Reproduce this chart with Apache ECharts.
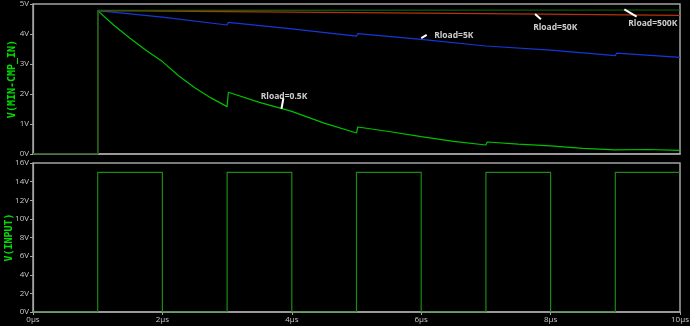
<!DOCTYPE html>
<html>
<head>
<meta charset="utf-8">
<script src="https://cdn.jsdelivr.net/npm/echarts@6/dist/echarts.min.js"></script>
<style>
html,body{margin:0;padding:0;background:#000;}
#chart{width:690px;height:326px;}
</style>
</head>
<body>
<div id="chart"></div>
<script>
// ---- data (time in µs, voltage in V) ----
const xTicks = [0, 2, 4, 6, 8, 10];
const topTicks = [0, 1, 2, 3, 4, 5];
const bottomTicks = [0, 2, 4, 6, 8, 10, 12, 14, 16];

const t05 = [0, 1, 1, 1.25, 1.5, 1.75, 2, 2.25, 2.5, 2.75, 3, 3.02, 3.5, 4, 4.5, 5, 5.02, 5.5, 6, 6.5, 7, 7.02, 7.5, 8, 8.5, 9, 9.02, 9.5, 10];
const v05 = [0, 0, 4.78, 4.29, 3.86, 3.45, 3.08, 2.61, 2.21, 1.87, 1.58, 2.06, 1.72, 1.42, 1.03, 0.70, 0.90, 0.75, 0.58, 0.42, 0.30, 0.40, 0.33, 0.27, 0.19, 0.14, 0.18, 0.15, 0.12];

const t5 = [0, 1, 1, 2, 3, 3.02, 4, 5, 5.02, 6, 7, 7.02, 8, 9, 9.02, 10];
const v5 = [0, 0, 4.78, 4.56, 4.30, 4.39, 4.17, 3.93, 4.01, 3.82, 3.60, 3.66, 3.46, 3.28, 3.36, 3.22];

const t50 = [0, 1, 1, 4, 7, 10];
const v50 = [0, 0, 4.78, 4.73, 4.68, 4.62];

const t500 = [0, 1, 1, 10];
const v500 = [0, 0, 4.79, 4.80];

const tIn = [0, 1, 1, 2, 2, 3, 3, 4, 4, 5, 5, 6, 6, 7, 7, 8, 8, 9, 9, 10];
const vIn = [0, 0, 15, 15, 0, 0, 15, 15, 0, 0, 15, 15, 0, 0, 15, 15, 0, 0, 15, 15];

const annoText = ['Rload=0.5K', 'Rload=5K', 'Rload=50K', 'Rload=500K'];
const annoX = [3.52, 6.20, 7.73, 9.20];
const annoY = [1.92, 3.95, 4.22, 4.36];
const leadX1 = [3.87, 6.00, 7.76, 9.14];
const leadY1 = [1.86, 3.86, 4.67, 4.82];
const leadX2 = [3.84, 6.085, 7.85, 9.33];
const leadY2 = [1.51, 3.97, 4.49, 4.58];

// ---- build ----
const zip = (a, b) => a.map((v, i) => [v, b[i]]);
const gray = '#a4a4a4';
const tickFont = { color: '#c8c8c8', fontSize: 8, fontFamily: 'Open Sans' };

const chart = echarts.init(document.getElementById('chart'), null, { renderer: 'canvas' });

function lineSeries(name, t, v, color, xi, width) {
  return {
    name, type: 'line', xAxisIndex: xi, yAxisIndex: xi,
    data: zip(t, v), showSymbol: false, symbol: 'none',
    lineStyle: { color, width: width || 1.2 }, silent: true, animation: false
  };
}

const option = {
  backgroundColor: '#000',
  animation: false,
  grid: [
    { left: 33, top: 4, width: 647, height: 150, show: true, borderColor: gray, borderWidth: 1.5,
      backgroundColor: 'transparent', containLabel: false, outerBoundsMode: 'none' },
    { left: 33, top: 163, width: 647, height: 149, show: true, borderColor: gray, borderWidth: 1.5,
      backgroundColor: 'transparent', containLabel: false, outerBoundsMode: 'none' }
  ],
  xAxis: [
    { type: 'value', gridIndex: 0, min: xTicks[0], max: xTicks[xTicks.length - 1], interval: 2,
      axisLine: { show: true, lineStyle: { color: gray, width: 1.5 } }, axisTick: { show: false },
      axisLabel: { show: false }, splitLine: { show: false } },
    { type: 'value', gridIndex: 1, min: xTicks[0], max: xTicks[xTicks.length - 1], interval: 2,
      axisLine: { show: true, onZero: false, lineStyle: { color: gray, width: 1.5 } },
      axisTick: { show: true, length: 3, lineStyle: { color: gray } },
      axisLabel: Object.assign({ margin: 4, formatter: v => v + 'µs' }, tickFont),
      splitLine: { show: false } }
  ],
  yAxis: [
    { type: 'value', gridIndex: 0, min: topTicks[0], max: topTicks[topTicks.length - 1], interval: 1,
      axisLine: { show: true, lineStyle: { color: gray, width: 1.2 } },
      axisTick: { show: true, length: 3, lineStyle: { color: gray } },
      axisLabel: Object.assign({ margin: 4, formatter: v => v + 'V' }, tickFont),
      splitLine: { show: false },
      name: 'V(MIN-CMP_IN)', nameLocation: 'middle', nameGap: 15.5, nameMoveOverlap: false,
      nameTextStyle: { color: '#00e000', fontSize: 10, fontWeight: 'bold', fontFamily: 'DejaVu Sans Mono' } },
    { type: 'value', gridIndex: 1, min: bottomTicks[0], max: bottomTicks[bottomTicks.length - 1], interval: 2,
      axisLine: { show: true, lineStyle: { color: gray, width: 1.2 } },
      axisTick: { show: true, length: 3, lineStyle: { color: gray } },
      axisLabel: Object.assign({ margin: 4, formatter: v => v + 'V' }, tickFont),
      splitLine: { show: false },
      name: 'V(INPUT)', nameLocation: 'middle', nameGap: 19, nameMoveOverlap: false,
      nameTextStyle: { color: '#00e000', fontSize: 10, fontWeight: 'bold', fontFamily: 'DejaVu Sans Mono' } }
  ],
  series: [
    lineSeries('Rload=0.5K', t05, v05, '#00c000', 0, 1.2),
    lineSeries('Rload=5K', t5, v5, '#1438d8', 0, 1.2),
    lineSeries('Rload=50K', t50, v50, '#b83010', 0, 1.2),
    lineSeries('Rload=500K', t500, v500, '#0a6a0a', 0, 1.2),
    lineSeries('V(INPUT)', tIn, vIn, '#1c8a14', 1, 1.2),
    {
      type: 'scatter', xAxisIndex: 0, yAxisIndex: 0, silent: true,
      symbolSize: 0,
      data: annoText.map((s, i) => ({ value: [annoX[i], annoY[i]], name: s })),
      label: { show: true, formatter: p => p.name, position: [0, 0], align: 'left', verticalAlign: 'middle',
        color: '#ffffff', fontSize: 8.5, fontWeight: 'bold', fontFamily: 'Open Sans' },
      markLine: {
        silent: true, symbol: ['none', 'none'], animation: false,
        label: { show: false },
        lineStyle: { color: '#ffffff', width: 2, type: 'solid' },
        data: annoText.map((s, i) => [{ coord: [leadX1[i], leadY1[i]] }, { coord: [leadX2[i], leadY2[i]] }])
      }
    }
  ]
};
chart.setOption(option);
</script>
</body>
</html>
